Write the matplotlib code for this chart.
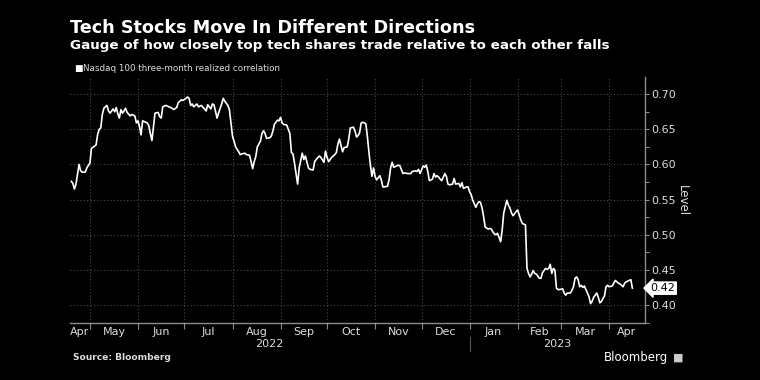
import matplotlib
matplotlib.use("Agg")
import matplotlib.pyplot as plt
from matplotlib.ticker import MultipleLocator, FormatStrFormatter
import pandas as pd

# ---- data ----
base_date = "2022-05-01"
days_since_base = [
    -12, -11, -10, -9, -7, -6, -5, -3, -2, 0, 1, 3, 4, 5, 6, 7, 8, 9, 11, 12,
    13, 14, 15, 16, 17, 18, 19, 20, 21, 22, 23, 24, 26, 27, 29, 30, 31, 32, 33, 34,
    36, 37, 38, 39, 40, 41, 42, 44, 45, 46, 47, 49, 51, 53, 54, 56, 57, 59, 60, 62,
    63, 64, 65, 66, 67, 69, 70, 72, 73, 74, 75, 76, 78, 79, 80, 81, 82, 83, 85, 86,
    87, 89, 90, 91, 92, 93, 94, 96, 97, 98, 100, 101, 103, 104, 105, 106, 107, 108, 110, 111,
    112, 113, 114, 116, 117, 118, 119, 121, 122, 123, 124, 125, 127, 128, 129, 130, 131, 132, 134, 135,
    137, 138, 139, 141, 142, 144, 145, 146, 148, 149, 151, 152, 153, 154, 156, 158, 159, 160, 161, 163,
    164, 166, 167, 168, 170, 171, 172, 173, 174, 175, 176, 178, 179, 180, 181, 182, 183, 184, 185, 187,
    188, 189, 190, 192, 193, 194, 195, 196, 198, 199, 200, 202, 203, 205, 207, 208, 210, 211, 212, 213,
    215, 216, 217, 218, 219, 221, 222, 223, 224, 225, 226, 227, 229, 230, 231, 232, 234, 235, 236, 238,
    239, 240, 241, 243, 244, 245, 246, 247, 249, 250, 251, 252, 253, 254, 255, 257, 258, 259, 260, 261,
    262, 263, 264, 265, 266, 267, 269, 270, 271, 272, 273, 274, 275, 276, 278, 279, 280, 281, 282, 283,
    284, 285, 286, 287, 288, 289, 290, 291, 292, 294, 295, 296, 297, 298, 299, 300, 301, 302, 303, 305,
    306, 307, 308, 310, 311, 312, 313, 314, 315, 316, 317, 318, 319, 320, 322, 323, 324, 325, 327, 328,
    329, 330, 332, 333, 334, 335, 337, 338, 339, 341, 342, 344, 345, 346, 348, 349, 350,
]
level = [
    0.576, 0.573, 0.565, 0.572, 0.600, 0.591, 0.589, 0.589, 0.595, 0.602, 0.623, 0.626, 0.628, 0.643, 0.650, 0.652, 0.671, 0.680, 0.684, 0.676,
    0.673, 0.676, 0.679, 0.675, 0.681, 0.672, 0.666, 0.678, 0.673, 0.676, 0.680, 0.674, 0.669, 0.671, 0.669, 0.659, 0.662, 0.654, 0.642, 0.662,
    0.660, 0.659, 0.655, 0.644, 0.634, 0.654, 0.673, 0.674, 0.668, 0.666, 0.682, 0.684, 0.682, 0.680, 0.678, 0.681, 0.688, 0.692, 0.691, 0.694,
    0.696, 0.694, 0.684, 0.686, 0.682, 0.686, 0.682, 0.684, 0.681, 0.679, 0.676, 0.685, 0.679, 0.686, 0.685, 0.676, 0.666, 0.673, 0.686, 0.694,
    0.690, 0.684, 0.678, 0.659, 0.640, 0.633, 0.625, 0.618, 0.614, 0.615, 0.616, 0.614, 0.613, 0.604, 0.594, 0.604, 0.611, 0.625, 0.633, 0.644,
    0.648, 0.644, 0.637, 0.638, 0.640, 0.647, 0.657, 0.663, 0.662, 0.667, 0.659, 0.657, 0.656, 0.650, 0.644, 0.617, 0.615, 0.602, 0.572, 0.595,
    0.616, 0.607, 0.612, 0.595, 0.593, 0.592, 0.604, 0.607, 0.612, 0.610, 0.603, 0.619, 0.610, 0.604, 0.610, 0.614, 0.617, 0.629, 0.636, 0.618,
    0.624, 0.625, 0.636, 0.652, 0.653, 0.648, 0.639, 0.641, 0.645, 0.659, 0.660, 0.658, 0.640, 0.618, 0.598, 0.583, 0.595, 0.583, 0.578, 0.584,
    0.578, 0.568, 0.568, 0.569, 0.578, 0.595, 0.603, 0.596, 0.598, 0.599, 0.598, 0.587, 0.588, 0.587, 0.587, 0.590, 0.591, 0.590, 0.593, 0.587,
    0.598, 0.596, 0.599, 0.590, 0.577, 0.579, 0.587, 0.582, 0.584, 0.582, 0.579, 0.577, 0.587, 0.583, 0.572, 0.571, 0.572, 0.580, 0.572, 0.573,
    0.568, 0.574, 0.566, 0.568, 0.568, 0.561, 0.557, 0.549, 0.539, 0.544, 0.547, 0.546, 0.538, 0.526, 0.511, 0.508, 0.509, 0.508, 0.504, 0.501,
    0.500, 0.502, 0.496, 0.490, 0.507, 0.531, 0.549, 0.542, 0.538, 0.531, 0.527, 0.530, 0.533, 0.535, 0.521, 0.516, 0.515, 0.514, 0.452, 0.445,
    0.440, 0.444, 0.449, 0.445, 0.444, 0.441, 0.438, 0.438, 0.446, 0.452, 0.451, 0.452, 0.458, 0.445, 0.452, 0.450, 0.424, 0.422, 0.422, 0.423,
    0.417, 0.414, 0.417, 0.417, 0.421, 0.426, 0.438, 0.440, 0.436, 0.426, 0.428, 0.425, 0.427, 0.422, 0.412, 0.402, 0.405, 0.411, 0.417, 0.411,
    0.403, 0.405, 0.413, 0.426, 0.428, 0.426, 0.427, 0.431, 0.435, 0.431, 0.430, 0.426, 0.431, 0.433, 0.435, 0.436, 0.424,
]
x_start = "2022-04-18"
x_end = "2023-04-24"
y_min, y_max = 0.3744, 0.7242
month_labels = ["Apr", "May", "Jun", "Jul", "Aug", "Sep", "Oct", "Nov", "Dec",
                "Jan", "Feb", "Mar", "Apr"]
year_labels = ["2022", "2023"]

title = "Tech Stocks Move In Different Directions"
subtitle = "Gauge of how closely top tech shares trade relative to each other falls"
legend_label = "Nasdaq 100 three-month realized correlation"
source = "Source: Bloomberg"
y_title = "Level"

# ---- figure ----
BG = "black"
FG = "white"
GRID = "#4a4a4a"
AXC = "#8c8c8c"
TXT = "#dcdcdc"

dates = pd.Timestamp(base_date) + pd.to_timedelta(days_since_base, unit="D")
fig = plt.figure(figsize=(7.6, 3.8), dpi=100, facecolor=BG)
ax = fig.add_axes([0.0918, 0.15, 0.7566, 0.647], facecolor=BG)

ax.plot(dates, level, color=FG, lw=1.2, solid_joinstyle="round")

x0, x1 = pd.Timestamp(x_start), pd.Timestamp(x_end)
ax.set_xlim(x0, x1)
ax.set_ylim(y_min, y_max)

for s in ["top", "left"]:
    ax.spines[s].set_visible(False)
for s in ["bottom", "right"]:
    ax.spines[s].set_color(AXC)
    ax.spines[s].set_linewidth(1.0)

# y axis on right
ax.yaxis.tick_right()
ax.yaxis.set_major_locator(MultipleLocator(0.05))
ax.yaxis.set_minor_locator(MultipleLocator(0.025))
ax.yaxis.set_major_formatter(FormatStrFormatter("%.2f"))
ax.tick_params(axis="y", which="major", colors=AXC, labelcolor=TXT, labelsize=8,
               length=3, width=0.8, pad=2)
ax.tick_params(axis="y", which="minor", colors=AXC, length=3, width=0.8)
ax.text(1.065, 0.5, y_title, transform=ax.transAxes, rotation=270, ha="center",
        va="center", color=TXT, fontsize=8.5)

# x axis: month boundaries as ticks, labels centred in visible part of month
month_starts = pd.date_range("2022-05-01", "2023-04-01", freq="MS")
ax.set_xticks(month_starts)
ax.set_xticklabels([])
ax.tick_params(axis="x", which="major", colors=AXC, length=4, width=0.8)
bounds = [x0] + list(month_starts) + [x1]
label_pos = [bounds[i] + (bounds[i + 1] - bounds[i]) / 2 for i in range(len(bounds) - 1)]
for pos, lab in zip(label_pos, month_labels):
    ax.text(pos, -0.017, lab, transform=ax.get_xaxis_transform(), ha="center", va="top",
            color=TXT, fontsize=8)
jan1 = pd.Timestamp("2023-01-01")
for (a, b), lab in zip([(x0, jan1), (jan1, x1)], year_labels):
    ax.text(a + (b - a) / 2, -0.065, lab, transform=ax.get_xaxis_transform(),
            ha="center", va="top", color=TXT, fontsize=8)
ax.plot([jan1, jan1], [-0.055, -0.115], transform=ax.get_xaxis_transform(),
        color="#5a5a5a", lw=0.8, clip_on=False)

# grid
ax.grid(True, which="major", axis="both", color=GRID, linestyle=(0, (1, 2)), lw=0.8)
ax.set_axisbelow(True)

# last value label
last_val = level[-1]
ax.annotate(f"{last_val:.2f}", xy=(1.0, last_val), xycoords=("axes fraction", "data"),
            xytext=(4, 0), textcoords="offset points", ha="left", va="center",
            color="black", fontsize=8,
            bbox=dict(boxstyle="larrow,pad=0.1", fc="white", ec="white"))

# titles
fig.text(0.092, 0.926, title, color=FG, fontsize=12.7, fontweight="bold", va="center", ha="left")
fig.text(0.092, 0.880, subtitle, color=FG, fontsize=9.7, fontweight="bold", va="center", ha="left")
fig.text(0.097, 0.821, "\u25A0", color=FG, fontsize=6.5, va="center", ha="left")
fig.text(0.109, 0.821, legend_label, color=TXT, fontsize=6.3, va="center", ha="left")
fig.text(0.096, 0.058, source, color=TXT, fontsize=6.6, fontweight="bold", va="center", ha="left")
fig.text(0.879, 0.060, "Bloomberg", color=FG, fontsize=8.5, va="center", ha="right")
fig.text(0.886, 0.060, "\u25A0", color="#cccccc", fontsize=8, va="center", ha="left")

fig.savefig("out.png", dpi=100, facecolor=BG)
